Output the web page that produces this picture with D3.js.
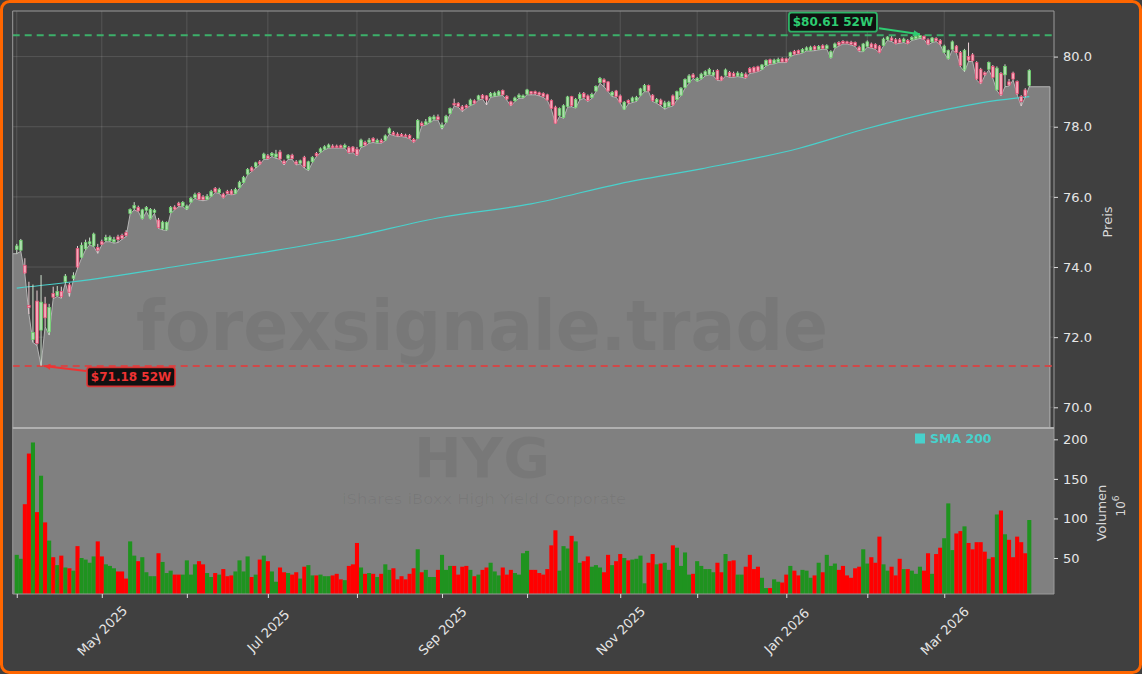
<!DOCTYPE html>
<html><head><meta charset="utf-8">
<script src="https://cdn.jsdelivr.net/npm/d3@7"></script>
<style>html,body{margin:0;padding:0;background:#404040;}svg{display:block;font-family:"DejaVu Sans",sans-serif;}</style>
</head><body><svg id="c" width="1142" height="674"></svg>
<script>
// ---- data (trading-day index 0 = 1 Apr 2025) ----
const open=[74.50,74.48,74.05,72.90,71.93,73.03,72.20,72.95,72.15,73.25,73.18,73.30,73.58,73.49,73.68,74.53,74.28,74.52,74.66,74.60,74.56,74.72,74.76,74.75,74.72,74.86,74.90,74.98,75.53,75.68,75.70,75.38,75.62,75.38,75.56,75.34,75.09,75.06,75.55,75.71,75.82,75.74,75.66,75.85,75.98,76.10,76.00,75.93,76.02,76.24,76.12,76.08,76.15,76.17,76.10,76.27,76.41,76.65,76.83,76.86,77.00,77.10,77.17,77.18,77.14,77.28,77.02,77.10,77.19,77.00,76.96,77.13,76.78,77.00,77.24,77.28,77.36,77.41,77.45,77.45,77.46,77.41,77.40,77.42,77.36,77.43,77.55,77.56,77.67,77.55,77.61,77.62,77.82,77.83,77.79,77.78,77.76,77.75,77.64,77.67,78.10,78.07,78.13,78.22,78.28,77.98,78.13,78.38,78.66,78.67,78.57,78.60,78.62,78.74,78.78,78.90,78.88,78.86,78.88,78.90,79.03,78.87,78.71,78.74,78.84,78.83,78.93,79.00,79.00,78.97,78.95,78.91,78.75,78.56,78.32,78.26,78.58,78.86,78.55,78.80,78.95,78.88,78.83,79.02,79.26,79.34,79.28,78.90,79.02,78.88,78.50,78.75,78.72,78.75,78.90,79.02,79.18,78.90,78.70,78.76,78.55,78.58,78.88,78.78,78.90,79.12,79.26,79.48,79.31,79.37,79.47,79.50,79.47,79.60,79.42,79.47,79.55,79.52,79.45,79.43,79.50,79.66,79.69,79.71,79.64,79.75,79.91,79.81,79.85,79.94,79.94,80.01,80.15,80.17,80.12,80.18,80.18,80.29,80.21,80.31,80.23,79.97,80.26,80.40,80.43,80.42,80.41,80.40,80.27,80.16,80.29,80.36,80.35,80.30,80.32,80.48,80.53,80.48,80.48,80.43,80.46,80.48,80.51,80.54,80.58,80.48,80.42,80.52,80.46,80.12,79.94,80.21,80.30,80.12,79.62,80.00,80.05,79.83,79.64,79.54,79.64,79.72,79.05,79.52,79.48,79.28,79.53,79.29,78.86,79.05,79.18];
const high=[74.66,74.80,74.25,73.58,73.50,73.33,73.77,73.15,72.95,73.44,73.46,73.44,73.80,73.55,73.85,74.60,74.70,74.78,74.84,74.98,74.66,74.78,74.92,74.90,74.86,74.92,74.95,75.05,75.67,75.85,75.75,75.66,75.74,75.68,75.66,75.40,75.32,75.30,75.74,75.76,75.86,75.88,75.78,76.00,76.12,76.14,76.05,76.08,76.20,76.28,76.26,76.12,76.20,76.22,76.26,76.46,76.60,76.82,76.87,77.00,77.05,77.26,77.22,77.28,77.34,77.34,77.06,77.22,77.23,77.05,77.06,77.17,77.03,77.16,77.28,77.41,77.47,77.52,77.50,77.49,77.49,77.52,77.45,77.45,77.42,77.66,77.60,77.68,77.70,77.66,77.66,77.78,77.98,77.88,77.84,77.82,77.80,77.79,77.68,78.22,78.15,78.22,78.30,78.34,78.35,78.12,78.34,78.55,78.80,78.70,78.62,78.64,78.80,78.78,78.91,78.93,78.90,78.99,79.00,79.04,79.06,78.90,78.74,78.86,78.95,78.92,79.08,79.02,79.03,79.00,78.98,78.94,78.78,78.60,78.55,78.64,78.88,78.88,78.82,78.98,78.99,78.92,78.97,79.18,79.42,79.38,79.30,79.02,79.05,78.92,78.73,78.78,78.86,78.88,79.11,79.22,79.20,78.93,78.82,78.80,78.74,78.74,78.92,79.03,79.13,79.38,79.50,79.53,79.42,79.54,79.61,79.68,79.62,79.64,79.45,79.66,79.59,79.57,79.58,79.56,79.55,79.70,79.72,79.74,79.79,79.92,79.94,79.94,79.97,79.98,79.97,80.14,80.19,80.20,80.24,80.29,80.31,80.32,80.33,80.35,80.35,80.18,80.40,80.44,80.47,80.45,80.45,80.43,80.31,80.39,80.46,80.40,80.38,80.33,80.54,80.58,80.58,80.53,80.53,80.54,80.50,80.58,80.60,80.61,80.60,80.52,80.56,80.55,80.50,80.34,80.20,80.46,80.33,80.16,80.22,80.40,80.10,79.87,79.68,79.58,79.86,79.76,79.72,79.56,79.78,79.36,79.57,79.32,78.90,79.10,79.64];
const low=[74.38,74.45,73.80,72.66,71.85,71.76,71.18,72.30,72.06,73.10,73.16,73.11,73.54,73.16,73.63,73.96,74.25,74.49,74.63,74.58,74.39,74.63,74.72,74.72,74.68,74.70,74.79,74.87,75.51,75.63,75.58,75.36,75.58,75.36,75.53,75.10,75.06,75.04,75.53,75.63,75.72,75.72,75.63,75.84,75.96,75.91,75.89,75.91,76.01,76.12,76.10,75.96,76.08,76.06,76.08,76.25,76.39,76.63,76.72,76.82,76.91,77.07,77.07,77.15,77.10,77.07,76.91,77.07,77.07,76.91,76.94,76.82,76.75,76.98,77.15,77.26,77.34,77.39,77.39,77.39,77.39,77.39,77.24,77.26,77.17,77.41,77.45,77.53,77.55,77.53,77.53,77.60,77.79,77.75,77.72,77.72,77.70,77.65,77.55,77.66,78.02,78.05,78.12,78.19,78.19,77.93,78.12,78.36,78.59,78.56,78.43,78.53,78.60,78.65,78.76,78.79,78.62,78.84,78.86,78.88,78.89,78.76,78.59,78.72,78.81,78.81,78.91,78.91,78.91,78.88,78.84,78.75,78.50,78.08,78.29,78.24,78.56,78.57,78.53,78.76,78.81,78.72,78.81,79.00,79.24,79.14,79.00,78.86,78.84,78.67,78.48,78.65,78.69,78.72,78.88,79.00,79.00,78.72,78.67,78.59,78.50,78.56,78.59,78.76,78.88,79.10,79.24,79.38,79.29,79.35,79.45,79.48,79.45,79.32,79.31,79.45,79.41,79.41,79.43,79.41,79.38,79.52,79.54,79.57,79.62,79.73,79.78,79.79,79.83,79.83,79.83,80.00,80.05,80.07,80.10,80.16,80.16,80.17,80.19,80.21,80.21,79.95,80.24,80.30,80.36,80.36,80.33,80.29,80.14,80.14,80.27,80.24,80.21,80.10,80.30,80.46,80.43,80.36,80.38,80.40,80.36,80.46,80.49,80.52,80.49,80.33,80.40,80.43,80.33,80.10,79.92,80.19,80.10,79.71,79.57,79.86,79.86,79.33,79.22,79.45,79.62,79.38,79.03,78.88,79.14,79.16,79.33,78.91,78.59,78.84,79.14];
const close=[74.60,74.76,73.83,72.85,72.13,71.82,73.00,72.55,72.85,73.14,73.30,73.15,73.74,73.28,73.75,74.00,74.62,74.70,74.72,74.94,74.48,74.65,74.84,74.85,74.78,74.78,74.82,74.90,75.64,75.75,75.60,75.63,75.70,75.64,75.62,75.12,75.28,75.27,75.70,75.65,75.75,75.84,75.74,75.96,76.06,75.93,75.92,76.02,76.15,76.14,76.21,75.99,76.10,76.08,76.21,76.42,76.56,76.78,76.74,76.97,76.94,77.22,77.09,77.24,77.22,77.08,76.95,77.19,77.09,76.94,77.03,76.86,77.00,77.13,77.17,77.37,77.43,77.48,77.40,77.41,77.40,77.47,77.27,77.28,77.20,77.62,77.48,77.62,77.58,77.61,77.55,77.74,77.94,77.77,77.74,77.73,77.72,77.67,77.57,78.18,78.04,78.14,78.27,78.28,78.21,78.05,78.30,78.52,78.62,78.58,78.48,78.55,78.76,78.67,78.88,78.81,78.76,78.95,78.96,79.00,78.91,78.79,78.62,78.82,78.90,78.88,79.05,78.94,78.94,78.91,78.86,78.76,78.52,78.10,78.52,78.60,78.85,78.60,78.78,78.92,78.84,78.75,78.92,79.15,79.38,79.26,79.02,78.98,78.86,78.70,78.70,78.68,78.82,78.84,79.08,79.18,79.02,78.74,78.78,78.63,78.68,78.70,78.62,79.00,79.10,79.35,79.45,79.40,79.38,79.50,79.57,79.63,79.55,79.34,79.33,79.62,79.43,79.43,79.53,79.51,79.40,79.55,79.56,79.59,79.76,79.89,79.80,79.90,79.92,79.85,79.85,80.11,80.07,80.09,80.20,80.25,80.27,80.20,80.29,80.23,80.31,80.14,80.36,80.33,80.38,80.38,80.35,80.31,80.17,80.36,80.42,80.26,80.23,80.12,80.50,80.56,80.46,80.38,80.40,80.50,80.38,80.55,80.57,80.60,80.50,80.36,80.53,80.45,80.36,80.30,80.17,80.42,80.12,79.75,80.18,79.90,79.88,79.36,79.25,79.48,79.83,79.41,79.67,78.91,79.72,79.19,79.36,78.94,78.72,78.88,79.60];
const volume=[54,49,118,182,196,108,154,95,72,51,41,53,38,37,34,65,50,48,44,52,71,52,42,40,37,33,33,24,71,53,46,51,32,27,27,56,45,31,34,29,29,29,47,29,42,46,42,31,26,31,29,36,27,28,33,47,33,52,26,29,48,53,46,33,20,38,32,31,29,32,24,39,41,28,28,29,27,27,28,30,23,22,40,42,69,38,30,31,30,26,30,42,35,37,23,27,23,30,37,61,32,35,26,26,35,54,35,40,40,29,39,40,35,27,29,35,38,44,33,28,38,29,35,31,29,56,59,35,35,31,29,36,66,85,34,65,62,78,71,44,46,52,39,41,38,32,54,41,46,55,50,47,48,49,53,18,44,55,42,43,44,35,66,63,40,57,29,30,46,40,36,36,32,44,32,55,46,47,29,29,39,54,36,39,25,12,12,23,20,19,29,40,34,28,35,34,25,28,44,32,54,40,43,35,40,28,25,37,39,61,43,51,44,77,42,34,39,28,49,36,36,34,30,39,34,56,30,55,63,75,119,60,81,84,90,69,61,70,70,58,49,51,105,110,80,73,51,77,70,56,98];
// SMA 200 read at selected candles
const smaIdx=[0,14,40,60,81,105,127,149,169,193,209,225,242,250];
const smaVal=[73.40,73.58,74.03,74.40,74.82,75.42,75.80,76.38,76.80,77.38,77.92,78.38,78.75,78.86];
// x axis: first trading day of each month
const tickIdx=[0,21,42,62,84,105,126,149,168,190,210,229];
const tickLabels=["","May 2025","","Jul 2025","","Sep 2025","","Nov 2025","","Jan 2026","","Mar 2026"];
const priceTicks=[70,72,74,76,78,80];
const volTicks=[50,100,150,200];

const svg=d3.select("#c");
const W=1142,H=674;
const L=12.7,R=1054,PT=11,PB=428,VT=428,VB=594;
const x=d3.scaleLinear().domain([-1,256.1]).range([L,R]);
const yP=d3.scaleLinear().domain([69.41,81.30]).range([PB,PT]);
const yV=d3.scaleLinear().domain([4.5,214.3]).range([VB,VT]);
const N=close.length;
const data=d3.range(N).map(i=>({i,o:open[i],h:high[i],l:low[i],c:close[i],v:volume[i]}));

// figure background + border
svg.append("rect").attr("x",1.5).attr("y",1.5).attr("width",W-3).attr("height",H-3).attr("rx",8)
  .attr("fill","#404040").attr("stroke","#ff6600").attr("stroke-width",3);

const defs=svg.append("defs");
defs.append("clipPath").attr("id","pclip").append("rect").attr("x",L).attr("y",PT).attr("width",R-L).attr("height",PB-PT);
defs.append("clipPath").attr("id","vclip").append("rect").attr("x",L).attr("y",VT).attr("width",R-L).attr("height",VB-VT);

// price panel
const gp=svg.append("g").attr("clip-path","url(#pclip)");
gp.append("rect").attr("x",L).attr("y",PT).attr("width",R-L).attr("height",PB-PT).attr("fill","#3e3e3e");
gp.selectAll("line.hg").data(priceTicks).join("line").attr("class","hg")
  .attr("x1",L).attr("x2",R).attr("y1",d=>yP(d)).attr("y2",d=>yP(d))
  .attr("stroke","rgba(255,255,255,0.16)").attr("stroke-width",0.8);
gp.selectAll("line.vg").data(tickIdx).join("line").attr("class","vg")
  .attr("x1",d=>x(d)).attr("x2",d=>x(d)).attr("y1",PT).attr("y2",PB)
  .attr("stroke","rgba(255,255,255,0.16)").attr("stroke-width",0.8);

// area under lows
const areaPts=[{i:-1,l:low[0]}].concat(data.map(d=>({i:d.i,l:d.l}))).concat([{i:255.1,l:low[N-1]}]);
gp.append("path").datum(areaPts)
  .attr("d",d3.area().x(d=>x(d.i)).y0(PB).y1(d=>yP(d.l)))
  .attr("fill","#808080").attr("stroke","#b4b4b4").attr("stroke-width",1);

// watermark
gp.append("text").attr("x",482).attr("y",350).attr("text-anchor","middle")
  .attr("font-size",70).attr("font-weight","bold").attr("textLength",692).attr("lengthAdjust","spacingAndGlyphs")
  .attr("fill","rgba(0,0,0,0.062)").text("forexsignale.trade");

// SMA 200
gp.append("path").datum(smaIdx.map((d,k)=>({i:d,v:smaVal[k]})))
  .attr("d",d3.line().x(d=>x(d.i)).y(d=>yP(d.v)).curve(d3.curveMonotoneX))
  .attr("fill","none").attr("stroke","#48d1cc").attr("stroke-width",1.2);

// 52W lines
const hiIdx=d3.maxIndex(high), loIdx=d3.minIndex(low);
const hi=high[hiIdx], lo=low[loIdx];
gp.append("line").attr("x1",L).attr("x2",R).attr("y1",yP(hi)).attr("y2",yP(hi))
  .attr("stroke","#3cb06a").attr("stroke-width",2).attr("stroke-dasharray","7,5");
gp.append("line").attr("x1",L).attr("x2",R).attr("y1",yP(lo)).attr("y2",yP(lo))
  .attr("stroke","#d04848").attr("stroke-width",2).attr("stroke-dasharray","7,5");

// candles
const bw=2.7;
const cg=gp.append("g");
cg.selectAll("line.w").data(data).join("line").attr("class","w")
  .attr("x1",d=>x(d.i)).attr("x2",d=>x(d.i)).attr("y1",d=>yP(d.h)).attr("y2",d=>yP(d.l))
  .attr("stroke",d=>d.c>=d.o?"#cfe2cf":"#ecd0d6").attr("stroke-width",1);
cg.selectAll("rect.b").data(data).join("rect").attr("class","b")
  .attr("x",d=>x(d.i)-bw/2).attr("width",bw)
  .attr("y",d=>yP(Math.max(d.o,d.c)))
  .attr("height",d=>Math.max(0.8,yP(Math.min(d.o,d.c))-yP(Math.max(d.o,d.c))))
  .attr("fill",d=>d.c>=d.o?"#b0dcb0":"#f6a8ba")
  .attr("stroke",d=>d.c>=d.o?"#66d466":"#e84a72").attr("stroke-width",0.7);

// volume panel
const gv=svg.append("g").attr("clip-path","url(#vclip)");
gv.append("rect").attr("x",L).attr("y",VT).attr("width",R-L).attr("height",VB-VT).attr("fill","#808080");
gv.append("text").attr("x",482).attr("y",477).attr("text-anchor","middle")
  .attr("font-size",56).attr("font-weight","bold").attr("textLength",136).attr("lengthAdjust","spacingAndGlyphs")
  .attr("fill","rgba(0,0,0,0.062)").text("HYG");
gv.append("text").attr("x",484).attr("y",504).attr("text-anchor","middle")
  .attr("font-size",14.5).attr("textLength",284).attr("lengthAdjust","spacingAndGlyphs")
  .attr("fill","rgba(0,0,0,0.062)").text("iShares iBoxx High Yield Corporate");
const vbw=4.1;
gv.selectAll("rect.v").data(data).join("rect").attr("class","v")
  .attr("x",d=>x(d.i)-vbw/2).attr("width",vbw)
  .attr("y",d=>yV(d.v)).attr("height",d=>VB-yV(d.v))
  .attr("fill",d=>d.c>=d.o?"#1f931f":"#ff0000");

// spines
const sp=svg.append("g").attr("fill","none");
sp.append("path").attr("d",`M${L},${PB}V${PT}H${R}V${PB}`).attr("stroke","#9a9a9a").attr("stroke-width",1);
sp.append("path").attr("d",`M${L},${VT}V${VB}H${R}V${VT}`).attr("stroke","#9a9a9a").attr("stroke-width",1);
sp.append("line").attr("x1",L).attr("x2",R).attr("y1",VT).attr("y2",VT).attr("stroke","#b0b0b0").attr("stroke-width",2);

// axes
function styleAxis(g){
  g.select(".domain").remove();
  g.selectAll(".tick line").attr("stroke","#dddddd");
  g.selectAll(".tick text").attr("fill","#e6e6e6").attr("font-size",13).attr("font-family","DejaVu Sans, sans-serif");
}
svg.append("g").attr("transform",`translate(${R},0)`)
  .call(d3.axisRight(yP).tickValues(priceTicks).tickFormat(d3.format(".1f")).tickSize(4).tickPadding(5))
  .call(styleAxis);
svg.append("g").attr("transform",`translate(${R},0)`)
  .call(d3.axisRight(yV).tickValues(volTicks).tickFormat(d3.format("d")).tickSize(4).tickPadding(5))
  .call(styleAxis);
const xa=svg.append("g").attr("transform",`translate(0,${VB})`)
  .call(d3.axisBottom(x).tickValues(tickIdx).tickFormat((d,k)=>tickLabels[k]).tickSize(4).tickPadding(0))
  .call(styleAxis);
xa.selectAll(".tick text").attr("text-anchor","middle").attr("dy",null).attr("y",null)
  .attr("dominant-baseline","central")
  .attr("transform","translate(0,37) rotate(-45)");

// axis titles
svg.append("text").attr("transform","translate(1107,222) rotate(-90)").attr("text-anchor","middle")
  .attr("dominant-baseline","central").attr("fill","#d8d8d8").attr("font-size",13).text("Preis");
svg.append("text").attr("transform","translate(1101,513) rotate(-90)").attr("text-anchor","middle")
  .attr("dominant-baseline","central").attr("fill","#d8d8d8").attr("font-size",13).text("Volumen");
const t6=svg.append("text").attr("transform","translate(1121,506) rotate(-90)").attr("text-anchor","middle")
  .attr("dominant-baseline","central").attr("fill","#d8d8d8").attr("font-size",12);
t6.append("tspan").text("10");
t6.append("tspan").attr("font-size",9).attr("dy",-5).text("6");

// legend
svg.append("rect").attr("x",915).attr("y",433.5).attr("width",10).attr("height",10).attr("fill","#48d1cc");
svg.append("text").attr("x",930).attr("y",438.5).attr("dominant-baseline","central").attr("font-size",12.5)
  .attr("font-weight","bold").attr("fill","#48d1cc").text("SMA 200");

// annotations
function arrow(x1,y1,x2,y2,col){
  svg.append("line").attr("x1",x1).attr("y1",y1).attr("x2",x2).attr("y2",y2).attr("stroke",col).attr("stroke-width",2);
  const a=Math.atan2(y2-y1,x2-x1), s=7;
  const p=[[x2,y2],[x2-s*Math.cos(a-0.45),y2-s*Math.sin(a-0.45)],[x2-s*Math.cos(a+0.45),y2-s*Math.sin(a+0.45)]];
  svg.append("path").attr("d","M"+p.map(q=>q.join(",")).join("L")+"Z").attr("fill",col);
}
function label(cx,cy,txt,col){
  const g=svg.append("g");
  g.append("rect").attr("x",cx-44).attr("y",cy-9.5).attr("width",88).attr("height",19).attr("rx",2.5)
    .attr("fill","#111111").attr("stroke",col).attr("stroke-width",1.8).attr("stroke-opacity",0.85);
  g.append("text").attr("x",cx).attr("y",cy).attr("text-anchor","middle").attr("dominant-baseline","central")
    .attr("font-size",12).attr("font-weight","bold").attr("fill",col).text(txt);
}
const hx=x(hiIdx), hy=yP(hi), lx=x(loIdx), ly=yP(lo);
arrow(hx-41,hy-7,hx,hy-1,"#2ecc71");
label(hx-87,hy-13,"$"+hi.toFixed(2)+" 52W","#2ecc71");
arrow(lx+45,ly+5,lx+3,ly,"#ee3333");
label(lx+90,ly+11,"$"+lo.toFixed(2)+" 52W","#ee3333");
</script></body></html>
